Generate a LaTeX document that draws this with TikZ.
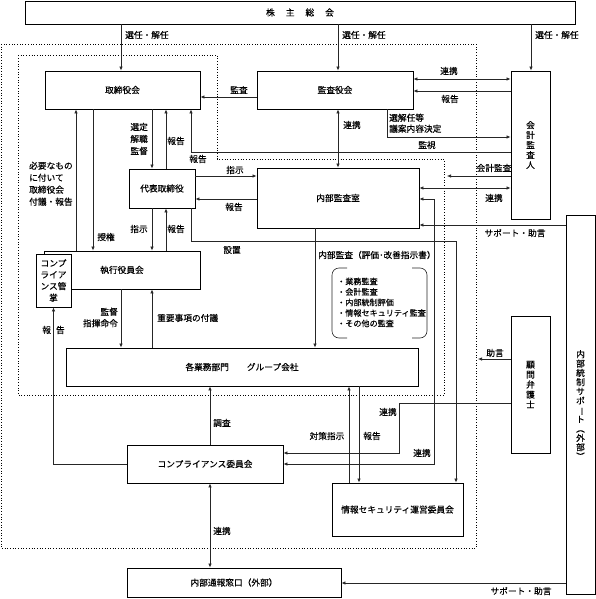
\documentclass[tikz,border=0pt]{standalone}
\usepackage{fontspec}
\setmainfont{Noto Sans CJK JP}[FakeBold=0.35]
\usetikzlibrary{arrows.meta}
\begin{document}
\begin{tikzpicture}[x=1pt,y=-1pt,
  every node/.style={font=\fontsize{8.7}{11}\selectfont, inner sep=0pt},
  box/.style={draw, line width=0.9pt, fill=white, align=center},
  ln/.style={line width=0.6pt, draw=black!85},
  arr/.style={ln, -{Latex[length=4pt,width=3.4pt]}},
  darr/.style={ln, {Latex[length=4pt,width=3.4pt]}-{Latex[length=4pt,width=3.4pt]}},
  dots/.style={line width=0.7pt, dotted}]
\useasboundingbox (0,0) rectangle (596,599);
% helper coordinates
\foreach \v in {53,76,93,121,152,166,191,210,315,338,349,359,387,399,434,456,531}{\coordinate (X\v) at (\v,0);}
\foreach \v in {79,91,97,137,152,176,188,199,225,241,359,403,453,464,583}{\coordinate (Y\v) at (0,\v);}
% dotted frames
\draw[dots] (1,44) rectangle (476,548);
\draw[dots] (18,55) -- (217,55) -- (217,159) -- (444,159) -- (444,395) -- (18,395) -- cycle;
% boxes
\node[box, minimum width=550pt, minimum height=23pt] (kabu) at (300,12.5) {株\hspace{11pt}主\hspace{11pt}総\hspace{11pt}会};
\node[box, minimum width=155pt, minimum height=38pt] (tori) at (122.5,90) {取締役会};
\node[box, minimum width=156pt, minimum height=38pt] (kansa) at (335,90) {監査役会};
\node[box, minimum width=39pt, minimum height=148pt, font=\fontsize{8.7}{10}\selectfont] (kaikei) at (530.5,145) {会\\計\\監\\査\\人};
\node[box, minimum width=29pt, minimum height=379pt, font=\fontsize{8.7}{9.3}\selectfont] (support) at (580.5,405) {内\\部\\統\\制\\サ\\ポ\\\rotatebox[origin=c]{-90}{ー}\\ト\\︵\\外\\部\\︶};
\node[box, minimum width=39pt, minimum height=137pt, font=\fontsize{8.7}{10}\selectfont] (komon) at (530.5,384.5) {顧\\問\\弁\\護\\士};
\node[box, minimum width=66pt, minimum height=39pt] (daihyo) at (162,188.5) {代表取締役};
\node[box, minimum width=162pt, minimum height=60pt] (naikan) at (338,198) {内部監査室};
\node[box, minimum width=156pt, minimum height=38pt] (shikko) at (122,270) {執行役員会};
\node[box, minimum width=35pt, minimum height=53pt, font=\fontsize{8.7}{11.5}\selectfont] (comp) at (53.5,280.5) {コンプ\\ライア\\ンス管\\掌};
\node[box, minimum width=352pt, minimum height=38pt] (gyomu) at (242,367) {各業務部門\hspace{18pt}グループ会社};
\node[box, minimum width=156pt, minimum height=38pt] (compiin) at (205,464) {コンプライアンス委員会};
\node[box, minimum width=131pt, minimum height=53pt] (joho) at (397.5,509.5) {情報セキュリティ運営委員会};
\node[box, minimum width=214pt, minimum height=29pt] (tsuho) at (234,582.5) {内部通報窓口（外部）};
\coordinate (kk) at (447,176);
\coordinate (jg) at (478,359);
% connectors
\draw[arr] (kabu.south -| X121) -- (tori.north -| X121);
\draw[arr] (kabu.south -| X338) -- (kansa.north -| X338);
\draw[arr] (kabu.south -| X531) -- (kaikei.north -| X531);
\draw[arr] (kansa.west |- Y97) -- (tori.east |- Y97);
\draw[darr] (kansa.east |- Y79) -- (kaikei.west |- Y79);
\draw[arr] (kaikei.west |- Y91) -- (kansa.east |- Y91);
\draw[arr] (kansa.south -| X387) |- (kaikei.west |- Y137);
\draw[arr] (kaikei.west |- Y152) -| (tori.south -| X191);
\draw[darr] (kansa.south -| X338) -- (naikan.north -| X338);
\draw[arr] (tori.south -| X152) -- (daihyo.north -| X152);
\draw[arr] (daihyo.north -| X166) -- (tori.south -| X166);
\draw[arr] (daihyo.east |- Y176) -- (naikan.west |- Y176);
\draw[arr] (naikan.west |- Y199) -- (daihyo.east |- Y199);
\draw[arr] (daihyo.south -| X191) |- (Y241 -| X456) -- (joho.north -| X456);
\draw[arr] (daihyo.south -| X152) -- (shikko.north -| X152);
\draw[arr] (shikko.north -| X166) -- (daihyo.south -| X166);
\draw[arr] (tori.south -| X93) -- (shikko.north -| X93);
\draw[arr] (shikko.north -| X76) -- (tori.south -| X76);
\draw[arr] (shikko.south -| X121) -- (gyomu.north -| X121);
\draw[arr] (gyomu.north -| X152) -- (shikko.south -| X152);
\draw[arr] (compiin.west) -| (comp.south);
\draw[arr] (compiin.north -| X210) -- (gyomu.south -| X210);
\draw[darr] (compiin.south -| X210) -- (tsuho.north -| X210);
\draw[arr] (komon.west |- Y403) -- (Y403 -| X399) -- (Y453 -| X399) -- (compiin.east |- Y453);
\draw[darr] (naikan.east |- Y199) -- (Y199 -| X434) -- (Y464 -| X434) -- (compiin.east |- Y464);
\draw[darr] (naikan.east |- Y188) -- (kaikei.west |- Y188);
\draw[arr] (kaikei.west |- kk) -- (kk);
\draw[arr] (support.west |- Y225) -- (naikan.east |- Y225);
\draw[arr] (komon.west |- jg) -- (jg);
\draw[arr] (support.west |- Y583) -- (tsuho.east |- Y583);
\draw[arr] (naikan.south -| X315) -- (gyomu.north -| X315);
\draw[arr] (joho.north -| X349) -- (gyomu.south -| X349);
\draw[arr] (gyomu.south -| X359) -- (joho.north -| X359);
% bracket list
\draw[ln, rounded corners=7pt] (347,268) -- (332,268) -- (332,338) -- (347,338);
\draw[ln, rounded corners=7pt] (412,268) -- (427,268) -- (427,338) -- (412,338);
\node[anchor=north west, align=left, font=\fontsize{8.1}{10.5}\selectfont] (lst) at (337,277.5) {・業務監査\\・会計監査\\・内部統制評価\\・情報セキュリティ監査\\・その他の監査};
% labels
\node[anchor=west] (l1) at (125,35) {選任・解任};
\node[anchor=west] (l2) at (342,35) {選任・解任};
\node[anchor=west] (l3) at (535,35) {選任・解任};
\node (l4) at (239,90) {監査};
\node (l5) at (449,71) {連携};
\node (l6) at (450,99) {報告};
\node[anchor=north west, align=left] (l7) at (389,113.5) {選解任等\\議案内容決定};
\node (l8) at (427,145) {監視};
\node (l9) at (198,159) {報告};
\node (l10) at (352,125) {連携};
\node[anchor=east, align=right, font=\fontsize{8.7}{12}\selectfont] (l11) at (148,139) {選定\\解職\\監督};
\node (l12) at (176,141) {報告};
\node (l13) at (235,170) {指示};
\node (l14) at (234,207) {報告};
\node (l15) at (232,250) {設置};
\node (l16) at (139,229) {指示};
\node (l17) at (176,229) {報告};
\node (l18) at (106,237) {授権};
\node[anchor=north west, align=left, font=\fontsize{8.7}{12}\selectfont] (l19) at (29,161.5) {必要なもの\\に付いて\\取締役会\\付議・報告};
\node[anchor=east, align=right, font=\fontsize{8.7}{11.5}\selectfont] (l20) at (118,317.5) {監督\\指揮命令};
\node[anchor=west] (l21) at (157,318) {重要事項の付議};
\node (l22) at (53.5,330) {報\hspace{5pt}告};
\node (l23) at (222,423) {調査};
\node (l24) at (222,531) {連携};
\node (l25) at (388,412) {連携};
\node (l26) at (422,453) {連携};
\node (l27) at (494,198) {連携};
\node (l28) at (494,168) {会計監査};
\node (l29) at (515,233) {サポート・助言};
\node (l30) at (495,353) {助言};
\node (l31) at (521,591) {サポート・助言};
\node[anchor=west] (l32) at (318,255) {内部監査（評価･改善指示書）};
\node (l33) at (327,436) {対策指示};
\node (l34) at (372,436) {報告};
\end{tikzpicture}
\end{document}
